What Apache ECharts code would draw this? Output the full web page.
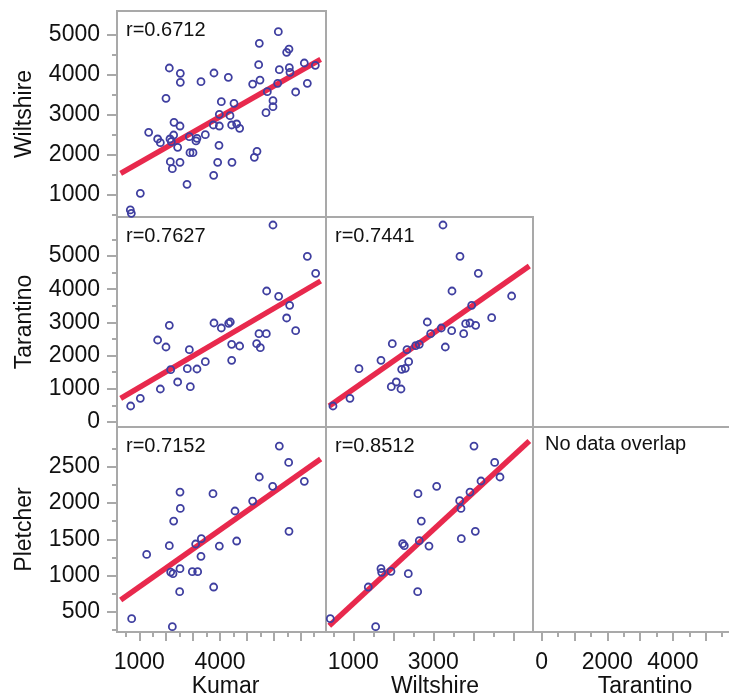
<!DOCTYPE html>
<html>
<head>
<meta charset="utf-8">
<script src="https://cdn.jsdelivr.net/npm/echarts@6/dist/echarts.min.js"></script>
<style>
  html, body { margin: 0; padding: 0; background: #fff; }
  #chart { width: 729px; height: 698px; }
</style>
</head>
<body>
<div id="chart"></div>
<script>
// ---- data: [x, y] pairs per panel ----
const kumarWiltshire = [
  [6168,5066],[5461,4774],[6564,4632],[6477,4549],[2116,4158],[7134,4283],[7543,4224],[5437,4241],
  [6205,4116],[6577,4166],[6601,4049],[2525,4024],[3776,4033],[4309,3924],[2525,3799],[3293,3816],
  [5486,3857],[5214,3757],[6143,3774],[7246,3774],[5759,3566],[6812,3558],[1992,3399],[5969,3341],
  [4049,3316],[4520,3274],[5969,3191],[5709,3041],[3975,2999],[4371,2966],[2290,2799],[2513,2707],
  [3752,2733],[3975,2707],[4433,2733],[4619,2758],[4730,2649],[1348,2549],[2277,2482],[2141,2383],
  [1682,2383],[1782,2291],[2860,2441],[3144,2399],[3454,2491],[3107,2333],[2190,2316],[2426,2174],
  [3962,2224],[2884,2041],[2996,2041],[5375,2074],[5276,1924],[2153,1816],[2513,1799],[2228,1641],
  [3913,1799],[4445,1799],[3764,1474],[2773,1249],[1038,1024],[666,608],[704,524]
];
const kumarTarantino = [
  [5969,5934],[7246,4990],[7555,4478],[5734,3946],[6180,3785],[6589,3514],[6477,3133],[6812,2751],
  [2116,2912],[3776,2982],[4049,2831],[4322,2972],[4383,3012],[1682,2470],[1992,2259],[2860,2179],
  [4433,2339],[4730,2289],[5449,2661],[5722,2661],[5362,2359],[5499,2239],[3454,1817],[4433,1857],
  [2166,1576],[2785,1606],[3144,1596],[2426,1205],[1782,994],[2897,1064],[1038,713],[679,482]
];
const wiltshireTarantino = [
  [3242,5934],[3667,4990],[4125,4478],[3467,3946],[4958,3795],[3959,3514],[4459,3143],[2850,3012],
  [3809,2962],[3917,2982],[4059,2912],[3200,2831],[2934,2661],[3459,2751],[3759,2661],[1975,2359],
  [3300,2259],[2559,2299],[2650,2339],[2342,2179],[1692,1857],[2384,1817],[1142,1606],[2209,1586],
  [2300,1616],[2075,1205],[1950,1064],[2192,994],[917,713],[492,482]
];
const kumarPletcher = [
  [6205,2784],[6552,2559],[5461,2358],[5957,2229],[7134,2298],[2513,2151],[3739,2128],[5214,2027],
  [2525,1926],[4557,1890],[2277,1752],[6564,1610],[3306,1509],[3095,1436],[4619,1477],[2116,1413],
  [3975,1408],[1274,1293],[3293,1266],[2513,1096],[2166,1050],[2252,1027],[2971,1055],[3169,1055],
  [3764,844],[2500,780],[716,408],[2228,298]
];
const wiltshirePletcher = [
  [4017,2784],[4534,2559],[4667,2358],[4192,2303],[3084,2229],[3917,2151],[2617,2128],[3659,2032],
  [3692,1926],[2700,1752],[4050,1610],[3700,1509],[2650,1482],[2234,1440],[2275,1413],[2892,1408],
  [1692,1096],[1709,1046],[1942,1060],[2375,1027],[1375,844],[2609,780],[425,408],[1559,298]
];

// fitted lines, end points
const fitKumarWiltshire = [[307,1524],[7741,4374]];
const fitKumarTarantino = [[307,713],[7741,4247]];
const fitWiltshireTarantino = [[400,482],[5400,4699]];
const fitKumarPletcher = [[307,665],[7741,2605]];
const fitWiltshirePletcher = [[400,312],[5400,2853]];

const correlations = ['r=0.6712', 'r=0.7627', 'r=0.7441', 'r=0.7152', 'r=0.8512'];

// axis scales and ticks
const kumarMajor = [1000,2000,3000,4000,5000,6000,7000];
const kumarMinor = [500,1500,2500,3500,4500,5500,6500,7500];
const kumarLabels = [1000,4000];
const wiltXMajor = [1000,2000,3000,4000,5000];
const wiltXMinor = [500,1500,2500,3500,4500];
const wiltXLabels = [1000,3000];
const tarXMajor = [0,1000,2000,3000,4000,5000,6000];
const tarXMinor = [500,1500,2500,3500,4500,5500];
const tarXLabels = [0,2000,4000];
const wiltYMajor = [1000,2000,3000,4000,5000];
const wiltYMinor = [500,1500,2500,3500,4500];
const tarYMajor = [0,1000,2000,3000,4000,5000];
const tarYMinor = [500,1500,2500,3500,4500,5500];
const pletYMajor = [500,1000,1500,2000,2500];
const pletYMinor = [250,750,1250,1750,2250,2750];

const FONT = '"Liberation Sans", Arial, Helvetica, sans-serif';
const textColor = '#111';
const frameColor = '#a9a9a9';
const dotColor = '#3f3fa0';
const fitColor = '#e8294d';

const vars = {
  kumar: { name: 'Kumar', min: 171, max: 7940, major: kumarMajor, minor: kumarMinor, labels: kumarLabels, shift: 8 },
  wiltX: { name: 'Wiltshire', min: 318, max: 5492, major: wiltXMajor, minor: wiltXMinor, labels: wiltXLabels, shift: 11 },
  tarX: { name: 'Tarantino', min: -265, max: 6046, major: tarXMajor, minor: tarXMinor, labels: tarXLabels, shift: 17 },
  wiltY: { name: 'Wiltshire', min: 432, max: 5583, major: wiltYMajor, minor: wiltYMinor, labels: wiltYMajor },
  tarY: { name: 'Tarantino', min: -151, max: 6175, major: tarYMajor, minor: tarYMinor, labels: tarYMajor },
  pletY: { name: 'Pletcher', min: 225, max: 3046, major: pletYMajor, minor: pletYMinor, labels: pletYMajor }
};

const colLeft = [117, 326, 533];
const colWidth = [209, 207, 207];
const rowTop = [11, 217, 427];
const rowHeight = [206, 210, 205];

const panels = [
  { row: 0, col: 0, x: 'kumar', y: 'wiltY', data: kumarWiltshire, fit: fitKumarWiltshire, r: correlations[0] },
  { row: 1, col: 0, x: 'kumar', y: 'tarY', data: kumarTarantino, fit: fitKumarTarantino, r: correlations[1] },
  { row: 1, col: 1, x: 'wiltX', y: 'tarY', data: wiltshireTarantino, fit: fitWiltshireTarantino, r: correlations[2] },
  { row: 2, col: 0, x: 'kumar', y: 'pletY', data: kumarPletcher, fit: fitKumarPletcher, r: correlations[3] },
  { row: 2, col: 1, x: 'wiltX', y: 'pletY', data: wiltshirePletcher, fit: fitWiltshirePletcher, r: correlations[4] },
  { row: 2, col: 2, x: 'tarX', y: 'pletY', note: 'No data overlap' }
];

const grid = [], xAxis = [], yAxis = [], series = [], graphic = [];

function baseAxis(v, gridIndex, position) {
  return {
    type: 'value', gridIndex, position, min: v.min, max: v.max,
    axisLine: { show: false },
    splitLine: { show: false },
    axisTick: { show: false },
    axisLabel: { show: false }
  };
}

const plain = v => String(v);

panels.forEach((p, i) => {
  grid.push({
    left: colLeft[p.col], top: rowTop[p.row], width: colWidth[p.col], height: rowHeight[p.row],
    outerBoundsMode: 'none', containLabel: false,
    show: true, borderColor: frameColor, borderWidth: 2, backgroundColor: 'transparent'
  });

  const vx = vars[p.x], vy = vars[p.y];
  const bottomRow = p.row === 2, leftCol = p.col === 0;

  // main x axis (used by the series)
  const ax = baseAxis(vx, i, 'bottom');
  if (bottomRow) {
    ax.axisTick = { show: true, customValues: vx.major, length: 9, lineStyle: { color: frameColor, width: 2 } };
    ax.axisLabel = { show: true, customValues: vx.labels, formatter: plain, margin: 19, fontSize: 23, fontFamily: FONT, color: textColor };
    ax.name = vx.name;
    ax.nameLocation = 'middle';
    ax.nameGap = 41;
    ax.nameTextStyle = { fontSize: 23, fontFamily: FONT, color: textColor, padding: [0, 0, 0, vx.shift] };
  }
  const xIndex = xAxis.length;
  xAxis.push(ax);
  if (bottomRow) {
    const mx = baseAxis(vx, i, 'bottom');
    mx.axisTick = { show: true, customValues: vx.minor, length: 5, lineStyle: { color: frameColor, width: 2 } };
    xAxis.push(mx);
  }

  // main y axis
  const ay = baseAxis(vy, i, 'left');
  if (leftCol) {
    ay.axisTick = { show: true, customValues: vy.major, length: 10, lineStyle: { color: frameColor, width: 2 } };
    ay.axisLabel = { show: true, customValues: vy.labels, formatter: plain, margin: 17, fontSize: 23, fontFamily: FONT, color: textColor };
    ay.name = vy.name;
    ay.nameLocation = 'middle';
    ay.nameGap = 81;
    ay.nameTextStyle = { fontSize: 23, fontFamily: FONT, color: textColor };
  }
  const yIndex = yAxis.length;
  yAxis.push(ay);
  if (leftCol) {
    const my = baseAxis(vy, i, 'left');
    my.axisTick = { show: true, customValues: vy.minor, length: 5, lineStyle: { color: frameColor, width: 2 } };
    yAxis.push(my);
  }

  if (p.data) {
    series.push({
      type: 'line', xAxisIndex: xIndex, yAxisIndex: yIndex, data: p.fit,
      showSymbol: false, symbol: 'none', clip: true, silent: true, z: 2,
      lineStyle: { color: fitColor, width: 5.5 }
    });
    series.push({
      type: 'scatter', xAxisIndex: xIndex, yAxisIndex: yIndex, data: p.data,
      symbol: 'circle', symbolSize: 7, z: 3, silent: true,
      itemStyle: { color: 'rgba(0,0,0,0)', borderColor: dotColor, borderWidth: 1.8, opacity: 1 }
    });
  }

  graphic.push({
    type: 'text',
    left: colLeft[p.col] + (p.note ? 12 : 9),
    top: rowTop[p.row] + (p.note ? 7 : 9),
    z: 10,
    style: { text: p.note || p.r, fontSize: 20, fontFamily: FONT, fill: textColor }
  });
});

const chart = echarts.init(document.getElementById('chart'), null, { renderer: 'canvas' });
chart.setOption({
  backgroundColor: '#fff',
  animation: false,
  grid, xAxis, yAxis, series, graphic
});
</script>
</body>
</html>
